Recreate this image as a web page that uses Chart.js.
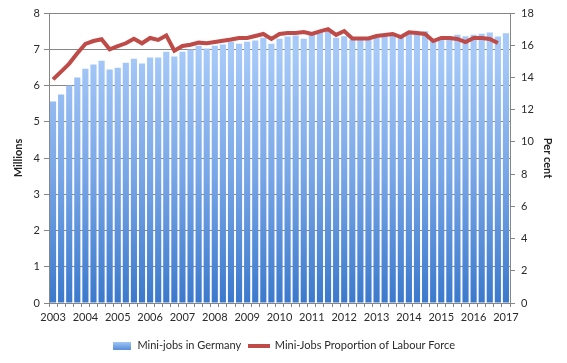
<!DOCTYPE html>
<html>
<head>
<meta charset="utf-8">
<script src="https://cdn.jsdelivr.net/npm/chart.js@4"></script>
<style>
  html, body { margin: 0; padding: 0; background: #fff; }
  #wrap { width: 567px; height: 363px; }
</style>
</head>
<body>
<div id="wrap"><canvas id="myChart" width="567" height="363"></canvas></div>
<script>
  // quarterly, 2003 Q1 .. 2017 Q1
  var quarters = [
    '2003 Q1','2003 Q2','2003 Q3','2003 Q4','2004 Q1','2004 Q2','2004 Q3','2004 Q4',
    '2005 Q1','2005 Q2','2005 Q3','2005 Q4','2006 Q1','2006 Q2','2006 Q3','2006 Q4',
    '2007 Q1','2007 Q2','2007 Q3','2007 Q4','2008 Q1','2008 Q2','2008 Q3','2008 Q4',
    '2009 Q1','2009 Q2','2009 Q3','2009 Q4','2010 Q1','2010 Q2','2010 Q3','2010 Q4',
    '2011 Q1','2011 Q2','2011 Q3','2011 Q4','2012 Q1','2012 Q2','2012 Q3','2012 Q4',
    '2013 Q1','2013 Q2','2013 Q3','2013 Q4','2014 Q1','2014 Q2','2014 Q3','2014 Q4',
    '2015 Q1','2015 Q2','2015 Q3','2015 Q4','2016 Q1','2016 Q2','2016 Q3','2016 Q4',
    '2017 Q1'
  ];

  // millions
  var miniJobs = [
    5.56, 5.75, 6.00, 6.22, 6.46, 6.58, 6.68, 6.44, 6.49, 6.63,
    6.74, 6.61, 6.77, 6.77, 6.93, 6.80, 6.93, 6.99, 7.10, 7.02,
    7.10, 7.13, 7.21, 7.15, 7.21, 7.24, 7.32, 7.15, 7.29, 7.35,
    7.38, 7.29, 7.43, 7.45, 7.48, 7.32, 7.36, 7.26, 7.26, 7.26,
    7.32, 7.35, 7.38, 7.35, 7.44, 7.47, 7.50, 7.25, 7.26, 7.36,
    7.40, 7.36, 7.40, 7.43, 7.46, 7.35, 7.44
  ];

  // per cent of labour force
  var proportion = [
    13.88, 14.36, 14.86, 15.50, 16.08, 16.26, 16.37, 15.75, 15.95, 16.12,
    16.40, 16.12, 16.45, 16.33, 16.61, 15.66, 15.95, 16.03, 16.16, 16.12,
    16.20, 16.28, 16.35, 16.45, 16.45, 16.57, 16.70, 16.39, 16.70, 16.76,
    16.76, 16.82, 16.70, 16.86, 17.00, 16.64, 16.88, 16.42, 16.42, 16.42,
    16.57, 16.64, 16.70, 16.51, 16.80, 16.76, 16.70, 16.26, 16.45, 16.45,
    16.39, 16.20, 16.45, 16.45, 16.39, 16.14, null
  ];

  var leftTicks = [0, 1, 2, 3, 4, 5, 6, 7, 8];
  var rightTicks = [0, 2, 4, 6, 8, 10, 12, 14, 16, 18];

  var axisGrey = '#868686';
  var textCol = '#2a2a2a';
  var lineRed = '#be4b48';

  function barFill(context) {
    var chart = context.chart;
    var area = chart.chartArea;
    if (!area) return '#8fb6ea';
    var g = chart.ctx.createLinearGradient(0, area.bottom, 0, area.top + 40);
    g.addColorStop(0, '#3b79cc');
    g.addColorStop(0.5, '#77a5e6');
    g.addColorStop(1, '#a6c9f8');
    return g;
  }

  // little legend symbols
  function barSymbol() {
    var c = document.createElement('canvas');
    c.width = 18; c.height = 8;
    var x = c.getContext('2d');
    var g = x.createLinearGradient(0, 8, 0, 0);
    g.addColorStop(0, '#5b8fd8');
    g.addColorStop(1, '#a6c9f8');
    x.fillStyle = g;
    x.fillRect(0, 0, 18, 8);
    return c;
  }
  function lineSymbol() {
    var c = document.createElement('canvas');
    c.width = 22; c.height = 4;
    var x = c.getContext('2d');
    x.fillStyle = lineRed;
    x.fillRect(0, 0, 22, 4);
    return c;
  }

  var ctx = document.getElementById('myChart');
  new Chart(ctx, {
    type: 'bar',
    data: {
      labels: quarters,
      datasets: [{
        label: 'Mini-jobs in Germany',
        data: miniJobs,
        backgroundColor: barFill,
        barPercentage: 0.76,
        categoryPercentage: 1,
        yAxisID: 'y',
        order: 1
      }, {
        type: 'line',
        label: 'Mini-Jobs Proportion of Labour Force',
        data: proportion,
        borderColor: lineRed,
        borderWidth: 4,
        pointRadius: 0,
        tension: 0,
        yAxisID: 'y2',
        order: 0
      }]
    },
    options: {
      responsive: false,
      animation: false,
      layout: { padding: { top: 13, bottom: 2 } },
      plugins: {
        tooltip: { enabled: false },
        legend: {
          position: 'bottom',
          labels: {
            usePointStyle: true,
            pointStyleWidth: 20,
            boxHeight: 8,
            padding: 8,
            color: textCol,
            font: { family: 'Lato', size: 11 },
            generateLabels: function (chart) {
              return chart.data.datasets.map(function (ds, i) {
                return {
                  text: ds.label,
                  pointStyle: i === 0 ? barSymbol() : lineSymbol(),
                  fontColor: textCol,
                  lineWidth: 0,
                  datasetIndex: i
                };
              });
            }
          }
        }
      },
      scales: {
        x: {
          offset: true,
          grid: { drawOnChartArea: false, tickLength: 4, color: axisGrey, offset: true },
          border: { color: axisGrey },
          ticks: {
            autoSkip: false,
            maxRotation: 0,
            padding: 4,
            color: textCol,
            font: { family: 'Lato', size: 11 },
            callback: function (v, i) {
              var q = quarters[i];
              return q.slice(5) === 'Q1' ? q.slice(0, 4) : '';
            }
          },
          afterFit: function (s) { s.height = 29; }
        },
        y: {
          position: 'left',
          min: 0,
          max: 8,
          afterBuildTicks: function (s) { s.ticks = leftTicks.map(function (v) { return { value: v }; }); },
          grid: { color: axisGrey, tickLength: 5 },
          border: { color: axisGrey },
          ticks: { padding: 4, color: textCol, font: { family: 'Lato', size: 11 } },
          title: {
            display: true,
            text: 'Millions',
            color: '#222',
            padding: { top: 12, bottom: 0 },
            font: { family: 'Lato', size: 11, weight: 'bold' }
          },
          afterFit: function (s) { s.width = 49; }
        },
        y2: {
          position: 'right',
          min: 0,
          max: 18,
          afterBuildTicks: function (s) { s.ticks = rightTicks.map(function (v) { return { value: v }; }); },
          grid: { drawOnChartArea: false, color: axisGrey, tickLength: 5 },
          border: { color: axisGrey },
          ticks: { padding: 6, color: textCol, font: { family: 'Lato', size: 11 } },
          title: {
            display: true,
            text: 'Per cent',
            color: '#222',
            padding: { top: 13, bottom: 0 },
            font: { family: 'Lato', size: 11, weight: 'bold' }
          },
          afterFit: function (s) { s.width = 57; }
        }
      }
    }
  });
</script>
</body>
</html>
